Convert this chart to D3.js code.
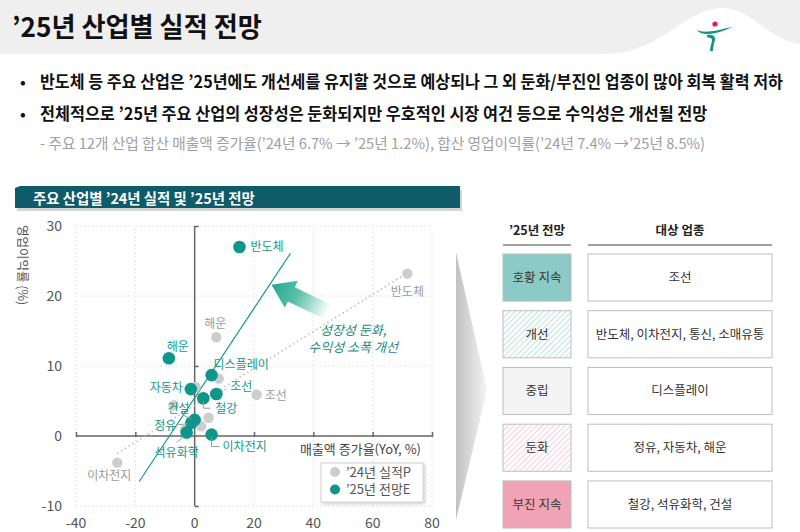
<!DOCTYPE html>
<html><head><meta charset="utf-8">
<script src="https://cdn.jsdelivr.net/npm/d3@7"></script>
<style>
html,body{margin:0;padding:0;background:#fff;}
svg{display:block;font-family:"Noto Sans CJK KR","Noto Sans",sans-serif;}
</style></head>
<body>
<svg id="c" width="800" height="532"></svg>
<script>
// ---------- data ----------
const title = "’25년 산업별 실적 전망";
const bullets = [
  "반도체 등 주요 산업은 ’25년에도 개선세를 유지할 것으로 예상되나 그 외 둔화/부진인 업종이 많아 회복 활력 저하",
  "전체적으로 ’25년 주요 산업의 성장성은 둔화되지만 우호적인 시장 여건 등으로 수익성은 개선될 전망"
];
const subNote = "- 주요 12개 산업 합산 매출액 증가율(’24년 6.7% → ’25년 1.2%), 합산 영업이익률(’24년 7.4% →’25년 8.5%)";
const chartTitle = "주요 산업별 ’24년 실적 및 ’25년 전망";

const industries25 = ["반도체","해운","디스플레이","자동차","조선","철강","건설","정유","석유화학","이차전지"];
const sales25  = [15.1,-8.7,5.7,-1.3,7.3,2.9,0.0,-1.1,-2.7,5.7];
const margin25 = [27.0,11.1,8.7,6.7,6.0,5.4,2.3,1.9,0.5,0.2];

const industries24 = ["반도체","해운","조선","이차전지","디스플레이","자동차","건설","철강","정유","석유화학"];
const sales24  = [71.7,7.3,20.9,-26.1,8.1,0.3,-7.1,4.7,2.2,-3.3];
const margin24 = [23.2,14.1,5.9,-3.8,8.2,7.0,4.4,2.6,1.4,0.9];
const labeled24 = ["반도체","해운","조선","이차전지"];

const trend25 = [[-18.7,-6.5],[32.3,26.1]];
const trend24 = [[-26.1,-2.5],[70.6,23.0]];

const xTicks = [-40,-20,0,20,40,60,80];
const yTicks = [-10,0,10,20,30];
const xTitle = "매출액 증가율(YoY, %)";
const yTitle = "영업이익률 (%)";
const legendLabels = ["’24년 실적P","’25년 전망E"];
const annotation = ["성장성 둔화,","수익성 소폭 개선"];

const tableHead = ["’25년 전망","대상 업종"];
const outlook = ["호황 지속","개선","중립","둔화","부진 지속"];
const sectors = ["조선","반도체, 이차전지, 통신, 소매유통","디스플레이","정유, 자동차, 해운","철강, 석유화학, 건설"];

// ---------- drawing ----------
const svg = d3.select("#c");
const defs = svg.append("defs");
const TEAL = "#0f968a", GRAY = "#cdcdcd";

function fitText(txt, x0, yb, width, size, weight, fill){
  const g = svg.append("g");
  const t = g.append("text").attr("x",0).attr("y",0).attr("font-size",size).attr("font-weight",weight).attr("fill",fill).text(txt);
  const w = t.node().getComputedTextLength();
  g.attr("transform",`translate(${x0},${yb}) scale(${width/w},1)`);
  return t;
}

// header band
svg.append("rect").attr("x",0).attr("y",0).attr("width",800).attr("height",54).attr("fill","#efefef");
svg.append("path").attr("d","M605,54 C660,54 685,8 722,8 C752,8 768,40 800,44 L800,54 Z").attr("fill","#fff");
// logo
svg.append("circle").attr("cx",715).attr("cy",24).attr("r",2.6).attr("fill","#e6194b");
svg.append("path").attr("d","M697,30 C704,33 712,32 733,26.5 C724,31 718,33 710,34 C704,34.5 699,33 697,30 Z").attr("fill","#0f968a");
svg.append("path").attr("d","M707,35 C712,34 716,36 715,40 C714,44 713,47 713,51 L710,51 C710,46 712,43 712,40 C712,38 710,37.5 707,37.5 Z").attr("fill","#0f968a");
fitText(title, 12, 37, 250, 27, 700, "#111");

// bullets
const bulletY = [88,120];
const bulletW = [743,668];
bullets.forEach((b,i)=>{
  svg.append("text").attr("x",20).attr("y",bulletY[i]).attr("font-size",17).attr("fill","#111").text("•");
  fitText(b, 40, bulletY[i], bulletW[i], 17, 600, "#111");
});
fitText(subNote, 40, 149, 666, 15, 400, "#a0a0a0");

// chart header bar
svg.append("path").attr("d","M17,192 L19,190 L462,190 L462,211 L17,211 Z").attr("fill","#d5d5d5");
svg.append("path").attr("d","M15,188 L20,186 L460,186 L460,208 L15,208 Z").attr("fill","#0e5b6a");
fitText(chartTitle, 33, 203.5, 222, 15, 700, "#fff");

// scales
const x = d3.scaleLinear().domain([-40,80]).range([76,432]);
const y = d3.scaleLinear().domain([-10,30]).range([506,226]);

// grid
const grid = svg.append("g");
grid.selectAll(".gx").data(xTicks).join("line")
  .attr("x1",d=>x(d)).attr("x2",d=>x(d)).attr("y1",y(-10)).attr("y2",y(30))
  .attr("stroke","#e6e6e6").attr("stroke-dasharray","2,2");
grid.selectAll(".gy").data(yTicks).join("line")
  .attr("x1",x(-40)).attr("x2",x(80)).attr("y1",d=>y(d)).attr("y2",d=>y(d))
  .attr("stroke","#e6e6e6").attr("stroke-dasharray","2,2");

// axes through origin
const xAxis = d3.axisTop(x).tickValues(xTicks.filter(d=>d!==0)).tickSize(4).tickFormat("");
const gx = svg.append("g").attr("transform",`translate(0,${y(0)})`).call(xAxis);
gx.select(".domain").attr("stroke","#666").attr("stroke-width",1.5).attr("d",`M${x(-40)},0H${x(80)}`);
gx.selectAll(".tick line").attr("stroke","#666").attr("stroke-width",1.5).attr("y1",1).attr("y2",-4);
const yAxis = d3.axisRight(y).tickValues([-10,10,30]).tickSize(4).tickFormat("");
const gy = svg.append("g").attr("transform",`translate(${x(0)},0)`).call(yAxis);
gy.select(".domain").attr("stroke","#666").attr("stroke-width",1.5).attr("d",`M0,${y(-10)}V${y(30)}`);
gy.selectAll(".tick line").attr("stroke","#666").attr("stroke-width",1.5);

// tick labels
svg.selectAll(".xl").data(xTicks).join("text")
  .attr("x",d=>x(d)).attr("y",523).attr("dy","0.35em").attr("text-anchor","middle")
  .attr("font-size",14).attr("fill","#555").text(d=>d);
svg.selectAll(".yl").data(yTicks).join("text")
  .attr("x",62).attr("y",d=>y(d)).attr("dy","0.35em").attr("text-anchor","end")
  .attr("font-size",14).attr("fill","#555").text(d=>d);
svg.append("text").attr("transform","translate(22,265) rotate(90)").attr("text-anchor","middle").attr("dy","0.35em")
  .attr("font-size",12.5).attr("fill","#555").text(yTitle);
svg.append("text").attr("x",421).attr("y",449).attr("dy","0.35em").attr("text-anchor","end")
  .attr("font-size",13).attr("fill","#444").text(xTitle);

// trend lines
const line = d3.line().x(d=>x(d[0])).y(d=>y(d[1]));
svg.append("path").attr("d",line(trend24)).attr("stroke","#bdbdbd").attr("stroke-width",1.6)
  .attr("stroke-dasharray","1.5,3").attr("fill","none");
svg.append("path").attr("d",line(trend25)).attr("stroke","#1a9a88").attr("stroke-width",1.2).attr("fill","none");

// annotation arrow
const grad = defs.append("linearGradient").attr("id","ag").attr("gradientUnits","userSpaceOnUse")
  .attr("x1",x(25.9)).attr("y1",y(21.6)).attr("x2",x(45)).attr("y2",y(17.7));
grad.append("stop").attr("offset","0%").attr("stop-color","#24a88f");
grad.append("stop").attr("offset","45%").attr("stop-color","#5cc0aa");
grad.append("stop").attr("offset","100%").attr("stop-color","#ffffff");
(function(){
  const tx=x(25.9), ty=y(21.6), sx=x(45), sy=y(17.7);
  const dx=tx-sx, dy=ty-sy, L=Math.hypot(dx,dy), ux=dx/L, uy=dy/L, px=-uy, py=ux;
  const hl=22, hw=15, bw=8;
  const bx=tx-ux*hl, by=ty-uy*hl;
  const pts=[[sx+px*bw,sy+py*bw],[bx+px*bw,by+py*bw],[bx+px*hw,by+py*hw],[tx,ty],
             [bx-px*hw,by-py*hw],[bx-px*bw,by-py*bw],[sx-px*bw,sy-py*bw]];
  svg.append("path").attr("d","M"+pts.map(p=>p.join(",")).join("L")+"Z").attr("fill","url(#ag)");
})();
svg.selectAll(".ann").data(annotation).join("text")
  .attr("x",x(53.4)).attr("y",(d,i)=>y(15.1)+i*17.5).attr("dy","0.35em").attr("text-anchor","middle")
  .attr("font-size",13).attr("font-style","italic").attr("fill","#1a8a7c").text(d=>d);

// points
const d24 = industries24.map((n,i)=>({n,x:sales24[i],y:margin24[i]}));
const d25 = industries25.map((n,i)=>({n,x:sales25[i],y:margin25[i]}));
svg.selectAll(".p24").data(d24).join("circle").attr("cx",d=>x(d.x)).attr("cy",d=>y(d.y)).attr("r",5.2).attr("fill",GRAY);
svg.selectAll(".p25").data(d25).join("circle").attr("cx",d=>x(d.x)).attr("cy",d=>y(d.y)).attr("r",6.3).attr("fill",TEAL);

// label layout (offsets from point, px)
const lab24 = {"반도체":[0,18,"middle"],"해운":[-1,-14,"middle"],"조선":[8,1,"start"],"이차전지":[-8,13,"middle"]};
const lab25 = {"반도체":[11,0,"start"],"해운":[9,-12,"middle"],"디스플레이":[2,-10,"start"],"자동차":[-8,-1,"end"],
  "조선":[14,-7,"start"],"철강":[12,11,"start"],"건설":[-5,-11,"end"],"정유":[-15,3.5,"end"],"석유화학":[-10,20,"middle"],"이차전지":[11,12,"start"]};
const leaders25 = {"조선":[[3,-1],[11,-6]],"철강":[[0,3],[0,10],[7,10]],"건설":[[-12,-5],[-3,-1]],"정유":[[-13,2],[-4,1]],
  "석유화학":[[-10,10],[-3,4]],"이차전지":[[0,3],[0,12],[8,12]]};
d25.forEach(d=>{
  const L = leaders25[d.n];
  if(L){
    svg.append("path").attr("d","M"+L.map(p=>[x(d.x)+p[0],y(d.y)+p[1]].join(",")).join("L"))
      .attr("fill","none").attr("stroke", d.n==="조선"?"#888":"#999").attr("stroke-width",1)
      .attr("stroke-dasharray", d.n==="조선"?"1.5,1.5":null);
  }
});
d24.filter(d=>labeled24.includes(d.n)).forEach(d=>{
  const o=lab24[d.n];
  svg.append("text").attr("x",x(d.x)+o[0]).attr("y",y(d.y)+o[1]).attr("dy","0.35em").attr("text-anchor",o[2])
    .attr("font-size",12).attr("fill","#9a9a9a").text(d.n);
});
d25.forEach(d=>{
  const o=lab25[d.n];
  svg.append("text").attr("x",x(d.x)+o[0]).attr("y",y(d.y)+o[1]).attr("dy","0.35em").attr("text-anchor",o[2])
    .attr("font-size",12).attr("fill","#14988a").text(d.n);
});

// legend
const fl = defs.append("filter").attr("id","sh").attr("x","-20%").attr("y","-20%").attr("width","140%").attr("height","160%");
fl.append("feDropShadow").attr("dx",1.5).attr("dy",1.5).attr("stdDeviation",1.5).attr("flood-color","#000").attr("flood-opacity",0.2);
svg.append("rect").attr("x",321).attr("y",463).attr("width",102).attr("height",39).attr("fill","#fff")
  .attr("stroke","#d0d0d0").attr("filter","url(#sh)");
[GRAY,TEAL].forEach((c,i)=>{
  svg.append("circle").attr("cx",335).attr("cy",472+i*17.5).attr("r",5).attr("fill",c);
  svg.append("text").attr("x",346).attr("y",472+i*17.5).attr("dy","0.35em").attr("font-size",13).attr("fill","#555").text(legendLabels[i]);
});

// chevron
const cg = defs.append("linearGradient").attr("id","cg").attr("x1","0").attr("x2","1").attr("y1","0").attr("y2","0");
cg.append("stop").attr("offset","0%").attr("stop-color","#c2c2c2");
cg.append("stop").attr("offset","100%").attr("stop-color","#f4f4f4");
svg.append("path").attr("d","M456,252 L487,390 L456,520 Z").attr("fill","url(#cg)");

// hatch patterns
function hatch(id,color){
  const p = defs.append("pattern").attr("id",id).attr("patternUnits","userSpaceOnUse").attr("width",4).attr("height",4)
    .attr("patternTransform","rotate(45)");
  p.append("rect").attr("width",4).attr("height",4).attr("fill","#fff");
  p.append("line").attr("x1",0).attr("y1",0).attr("x2",0).attr("y2",4).attr("stroke",color).attr("stroke-width",1.6);
}
hatch("ht","#a9dcd7"); hatch("hp","#f6c2cf");
const fills = ["#8ccac6","url(#ht)","#f3f3f3","url(#hp)","#f0a3b6"];

// table
const colL=[503,571], colR=[588,772];
svg.append("text").attr("x",(colL[0]+colL[1])/2).attr("y",231).attr("dy","0.35em").attr("text-anchor","middle")
  .attr("font-size",12.5).attr("font-weight",700).attr("fill","#222").text(tableHead[0]);
svg.append("text").attr("x",(colR[0]+colR[1])/2).attr("y",231).attr("dy","0.35em").attr("text-anchor","middle")
  .attr("font-size",12.5).attr("font-weight",700).attr("fill","#222").text(tableHead[1]);
svg.append("line").attr("x1",colL[0]).attr("x2",colL[1]).attr("y1",245).attr("y2",245).attr("stroke","#444").attr("stroke-width",1);
svg.append("line").attr("x1",colR[0]).attr("x2",colR[1]).attr("y1",245).attr("y2",245).attr("stroke","#444").attr("stroke-width",1);
const rowY = d3.scaleBand().domain(outlook).range([254,528]).paddingInner(0.17).paddingOuter(0);
outlook.forEach((o,i)=>{
  const ry=rowY(o), h=rowY.bandwidth();
  svg.append("rect").attr("x",colL[0]).attr("y",ry).attr("width",colL[1]-colL[0]).attr("height",h)
    .attr("fill",fills[i]).attr("stroke","#bdbdbd");
  svg.append("rect").attr("x",colR[0]).attr("y",ry).attr("width",colR[1]-colR[0]).attr("height",h)
    .attr("fill","#fff").attr("stroke","#bdbdbd");
  svg.append("text").attr("x",(colL[0]+colL[1])/2).attr("y",ry+h/2).attr("dy","0.35em").attr("text-anchor","middle")
    .attr("font-size",12.5).attr("fill","#333").text(o);
  svg.append("text").attr("x",(colR[0]+colR[1])/2).attr("y",ry+h/2).attr("dy","0.35em").attr("text-anchor","middle")
    .attr("font-size",12.5).attr("fill","#333").text(sectors[i]);
});
</script>
</body></html>
